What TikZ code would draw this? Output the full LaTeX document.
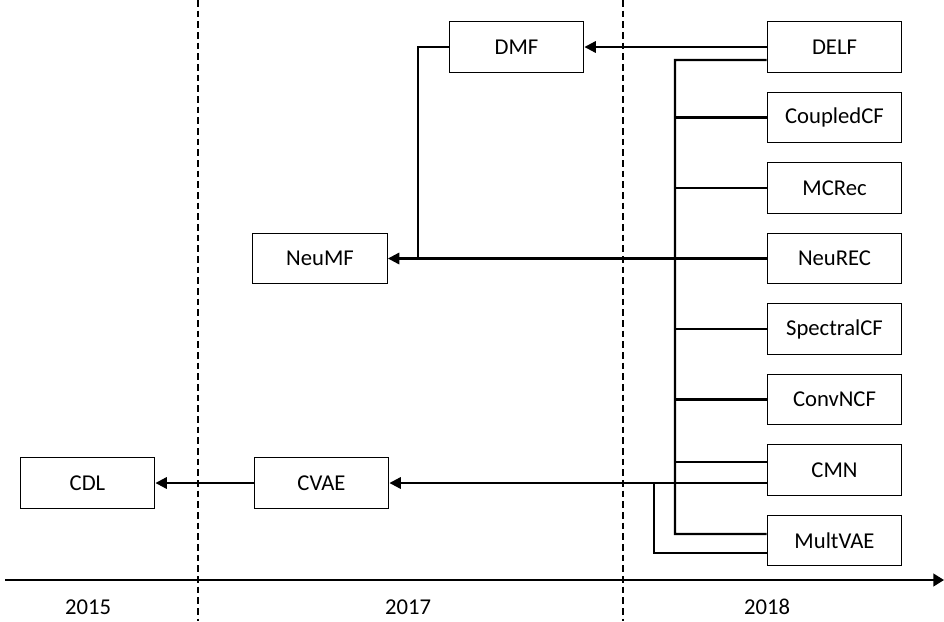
\documentclass[tikz,border=0pt]{standalone}
\usepackage{fontspec}
\setmainfont{Carlito}
\usetikzlibrary{arrows.meta}
\begin{document}
\begin{tikzpicture}[x=0.75pt,y=-0.75pt,
    box/.style={draw,line width=0.9pt,minimum width=101pt,minimum height=38pt,inner sep=0pt,font=\fontsize{17}{20}\selectfont},
    year/.style={font=\fontsize{17}{20}\selectfont},
    link/.style={line width=1.6pt},
    arr/.style={link,-{Triangle[length=8.5pt,width=8.5pt]}},
    sep/.style={line width=0.8pt,dash pattern=on 5pt off 3pt}]
  \useasboundingbox (0,0) rectangle (944,621);
  % year separators
  \draw[sep] (198,0) -- (198,621);
  \draw[sep] (623,0) -- (623,621);
  \draw[link,-{Triangle[length=8pt,width=9.5pt]}] (5,580) -- (944,580);
  \draw
    (88,607) node[year] (y15){2015}
    (408,607) node[year] (y17){2017}
    (767,607) node[year] (y18){2018};
  % models
  \draw
    (834.5,47) node[box] (delf){DELF}
    (834.5,117.5) node[box] (coupledcf){CoupledCF}
    (834.5,188) node[box] (mcrec){MCRec}
    (834.5,258.5) node[box] (neurec){NeuREC}
    (834.5,329) node[box] (spectralcf){SpectralCF}
    (834.5,399.5) node[box] (convncf){ConvNCF}
    (834.5,470) node[box] (cmn){CMN}
    (834.5,540.5) node[box] (multvae){MultVAE}
    (516.5,47) node[box] (dmf){DMF}
    (320,258.5) node[box] (neumf){NeuMF}
    (321.5,483) node[box] (cvae){CVAE}
    (87.5,483) node[box] (cdl){CDL};
  \coordinate (ttop) at (675,60);
  \coordinate (tbot) at (675,534);
  \coordinate (jmf) at (418,258.5);
  \coordinate (jvae) at (654,483);
  \begin{scope}[link]
    \draw[arr] (delf.west) -- (dmf.east);
    \draw ([yshift=-9.75pt]delf.west) -- (ttop) -- (tbot) -- ([yshift=4.9pt]multvae.west);
    \foreach \n in {coupledcf,mcrec,spectralcf,convncf}
      \draw (\n.west) -- (\n.west -| ttop);
    \draw ([yshift=6pt]cmn.west) -- ++(-91,0);
    \draw[arr] (neurec.west) -- (neumf.east);
    \draw (dmf.west) -| (jmf);
    \draw[arr] ([yshift=-9.75pt]cmn.west) -- (cvae.east);
    \draw ([yshift=-9.4pt]multvae.west) -| (jvae);
    \draw[arr] (cvae.west) -- (cdl.east);
  \end{scope}
\end{tikzpicture}
\end{document}
